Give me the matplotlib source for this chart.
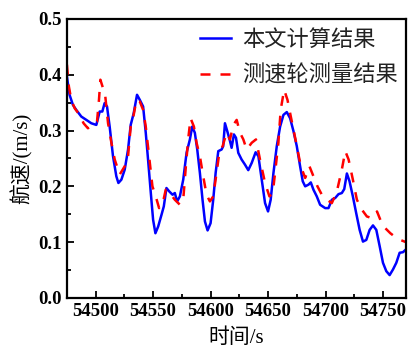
import numpy as np
import matplotlib
matplotlib.use('Agg')
import matplotlib.pyplot as plt
from matplotlib.ticker import MultipleLocator

# ========================= Data =========================
# 本文计算结果 (blue, solid)
calc_t = [54475, 54477.3, 54480.2, 54483.1, 54487.5, 54491.9, 54496.2, 54500.6,
          54503.5, 54505.8, 54507.8, 54509.9, 54512.2, 54515.1, 54518, 54519.8,
          54522.4, 54525.3, 54528.2, 54530.5, 54533.1, 54536, 54538.4, 54541.3,
          54543.6, 54545.6, 54548, 54550, 54552, 54554.4, 54557.3, 54559.3,
          54561.6, 54564, 54566.9, 54568.9, 54570.9, 54573.3, 54576.2, 54579.1,
          54582, 54584, 54586.3, 54588.4, 54590.7, 54593, 54595.1, 54597.4,
          54600, 54602.3, 54604.4, 54606.7, 54609.6, 54611, 54612.5, 54614.5,
          54616.9, 54618.3, 54620.3, 54622.1, 54624.1, 54627, 54629.9, 54632.8,
          54635.8, 54639.2, 54641.6, 54644.5, 54647.4, 54650, 54652.3, 54654.7,
          54657.6, 54660.5, 54663.4, 54666.3, 54669.2, 54672.1, 54675, 54677.9,
          54680.2, 54682.3, 54685.2, 54687.2, 54689.5, 54692.4, 54695.3, 54699.7,
          54702.6, 54705.5, 54708.4, 54711.3, 54714.2, 54716.3, 54718.6, 54720.9,
          54723.8, 54726.7, 54729.7, 54732.6, 54735.5, 54738.4, 54741.3, 54744.2,
          54747.1, 54750, 54752.9, 54755.8, 54758.7, 54761.6, 54764.5, 54767.4,
          54770]
calc_v = [0.397, 0.364, 0.346, 0.337, 0.325, 0.319, 0.313, 0.310,
          0.334, 0.334, 0.349, 0.343, 0.307, 0.254, 0.218, 0.206,
          0.212, 0.230, 0.266, 0.310, 0.331, 0.364, 0.355, 0.343,
          0.296, 0.248, 0.188, 0.140, 0.116, 0.128, 0.149, 0.164,
          0.197, 0.191, 0.185, 0.188, 0.173, 0.182, 0.212, 0.260,
          0.284, 0.307, 0.296, 0.266, 0.224, 0.176, 0.137, 0.121,
          0.134, 0.176, 0.224, 0.263, 0.266, 0.272, 0.313, 0.299,
          0.281, 0.269, 0.293, 0.287, 0.260, 0.248, 0.239, 0.229,
          0.242, 0.261, 0.254, 0.212, 0.170, 0.155, 0.176, 0.224,
          0.272, 0.307, 0.328, 0.333, 0.322, 0.299, 0.272, 0.236,
          0.209, 0.200, 0.203, 0.207, 0.194, 0.182, 0.167, 0.161,
          0.161, 0.176, 0.179, 0.186, 0.188, 0.195, 0.223, 0.209,
          0.182, 0.152, 0.122, 0.101, 0.104, 0.122, 0.130, 0.122,
          0.093, 0.063, 0.048, 0.041, 0.051, 0.063, 0.081, 0.082,
          0.087]

# 测速轮测量结果 (red, dashed)
wheel_t = [54475, 54476.7, 54478.8, 54481.7, 54486, 54489.5, 54493.3, 54497.7,
           54501.2, 54502.9, 54504.1, 54506.4, 54508.4, 54510.8, 54513.7, 54516.6,
           54520.9, 54525.3, 54528.2, 54530.5, 54533.1, 54535.5, 54538.4, 54541.3,
           54543.6, 54546.5, 54549.4, 54552.3, 54555.2, 54558.1, 54561, 54564.5,
           54568.9, 54573.3, 54576.2, 54578.5, 54580.5, 54582.6, 54585.5, 54587.8,
           54590.7, 54593.6, 54596.5, 54599.4, 54602.3, 54605.2, 54607.6, 54610.5,
           54613.9, 54616.9, 54619.8, 54622.7, 54625.6, 54628.5, 54631.4, 54635.8,
           54639.5, 54643, 54647.4, 54651.2, 54654.1, 54656.1, 54659, 54661,
           54664, 54666.9, 54669.8, 54672.7, 54675.6, 54678.5, 54682.3, 54686,
           54689.5, 54693, 54696.8, 54701.2, 54705.5, 54709.9, 54714.2, 54717.2,
           54720.1, 54723.8, 54727.3, 54731.7, 54736, 54740.4, 54744.8, 54748.3,
           54752, 54756.4, 54760.8, 54765.1, 54770]
wheel_v = [0.418, 0.379, 0.355, 0.340, 0.328, 0.313, 0.304, 0.313,
           0.316, 0.355, 0.391, 0.376, 0.361, 0.313, 0.278, 0.248,
           0.221, 0.236, 0.254, 0.307, 0.328, 0.355, 0.352, 0.337,
           0.307, 0.254, 0.200, 0.182, 0.161, 0.167, 0.194, 0.188,
           0.176, 0.167, 0.176, 0.236, 0.284, 0.322, 0.307, 0.278,
           0.254, 0.218, 0.185, 0.173, 0.182, 0.224, 0.260, 0.272,
           0.296, 0.284, 0.310, 0.319, 0.296, 0.284, 0.266, 0.278,
           0.284, 0.248, 0.206, 0.182, 0.188, 0.224, 0.278, 0.337,
           0.373, 0.355, 0.325, 0.296, 0.266, 0.236, 0.215, 0.236,
           0.218, 0.200, 0.185, 0.176, 0.170, 0.191, 0.230, 0.263,
           0.248, 0.212, 0.176, 0.158, 0.146, 0.143, 0.155, 0.137,
           0.125, 0.116, 0.109, 0.104, 0.100]

LABEL_CALC = '本文计算结果'
LABEL_WHEEL = '测速轮测量结果'
XLABEL = '时间/s'
YLABEL = '航速/(m/s)'

# ========================= Plot =========================
FONTS = ['Liberation Serif', 'Noto Sans CJK SC', 'DejaVu Sans']
plt.rcParams['font.family'] = FONTS

fig = plt.figure(figsize=(4.08, 3.56), dpi=100)
ax = fig.add_axes([0.164, 0.163, 0.831, 0.784])

ax.plot(calc_t, calc_v, color='#0000ff', lw=1.8, label=LABEL_CALC)
ax.plot(wheel_t, wheel_v, color='#ff0000', lw=1.8, ls=(0, (4, 4)), label=LABEL_WHEEL)

ax.set_xlim(54475, 54770)
ax.set_ylim(0.0, 0.5)
ax.xaxis.set_major_locator(MultipleLocator(50))
ax.xaxis.set_minor_locator(MultipleLocator(25))
ax.yaxis.set_major_locator(MultipleLocator(0.1))
ax.yaxis.set_minor_locator(MultipleLocator(0.05))
ax.yaxis.set_major_formatter(matplotlib.ticker.FormatStrFormatter('%.1f'))

ax.tick_params(which='both', direction='in', width=1.3, labelsize=13.5)
ax.tick_params(which='major', length=5)
ax.tick_params(which='minor', length=3)
for lab in ax.get_xticklabels() + ax.get_yticklabels():
    lab.set_fontweight('bold')
for sp in ax.spines.values():
    sp.set_linewidth(1.6)

ax.set_xlabel(XLABEL, fontsize=15, labelpad=6)
ax.set_ylabel(YLABEL, fontsize=15, labelpad=4)

leg = ax.legend(loc='upper right', frameon=False, fontsize=16,
                handlelength=1.4, handletextpad=0.5, labelspacing=0.66,
                borderaxespad=0.3, bbox_to_anchor=(1.023, 1.015))
for txt in leg.get_texts():
    txt.set_color('#222222')

fig.savefig('out.png', dpi=100)
